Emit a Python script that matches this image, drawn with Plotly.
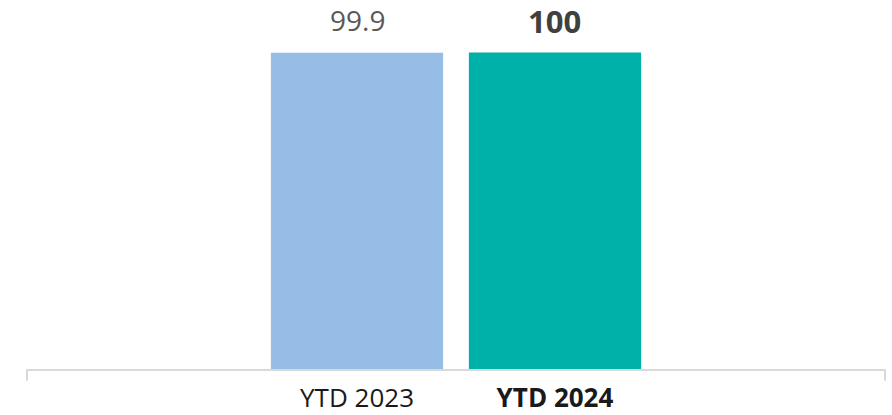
import plotly.graph_objects as go

# Data
categories = ["YTD 2023", "YTD 2024"]
values = [99.9, 100]
bar_colors = ["#95BDE5", "#00B1A9"]
emphasis = [False, True]  # latest period is shown in bold

FONT = "Open Sans"
positions = list(range(len(categories)))


def fmt(v):
    return f"{v:g}"


fig = go.Figure(
    go.Bar(
        x=positions,
        y=values,
        marker=dict(color=bar_colors, line=dict(width=0)),
        width=0.87,
        hoverinfo="skip",
    )
)

# Value labels above the bars
for x, v, bold in zip(positions, values, emphasis):
    fig.add_annotation(
        x=x,
        y=v,
        yanchor="bottom",
        yshift=10 if bold else 13,
        borderpad=0,
        showarrow=False,
        text=f"<b>{fmt(v)}</b>" if bold else fmt(v),
        font=dict(family=FONT, size=31 if bold else 28,
                  color="#404040" if bold else "#595959"),
    )

tick_text = [f"<b>{c}</b>" if b else c for c, b in zip(categories, emphasis)]

fig.update_layout(
    width=892,
    height=415,
    margin=dict(l=27, r=7, t=0, b=42),
    paper_bgcolor="white",
    plot_bgcolor="white",
    showlegend=False,
    xaxis=dict(
        range=[-1.667, 2.667],
        tickmode="array",
        tickvals=positions,
        ticktext=tick_text,
        tickfont=dict(family=FONT, size=26, color="#1a1a1a"),
        showgrid=False,
        zeroline=False,
        showline=True,
        linecolor="#D9D9D9",
        linewidth=2,
        ticks="",
        ticklabelstandoff=5,
    ),
    yaxis=dict(
        range=[0, 116.6],
        visible=False,
    ),
)

# End tick marks of the category axis
for xp in (0, 1):
    fig.add_shape(
        type="line",
        xref="paper",
        yref="paper",
        x0=xp,
        x1=xp,
        y0=0,
        y1=-0.032,
        line=dict(color="#D9D9D9", width=2),
    )

fig.write_html("out.html")
